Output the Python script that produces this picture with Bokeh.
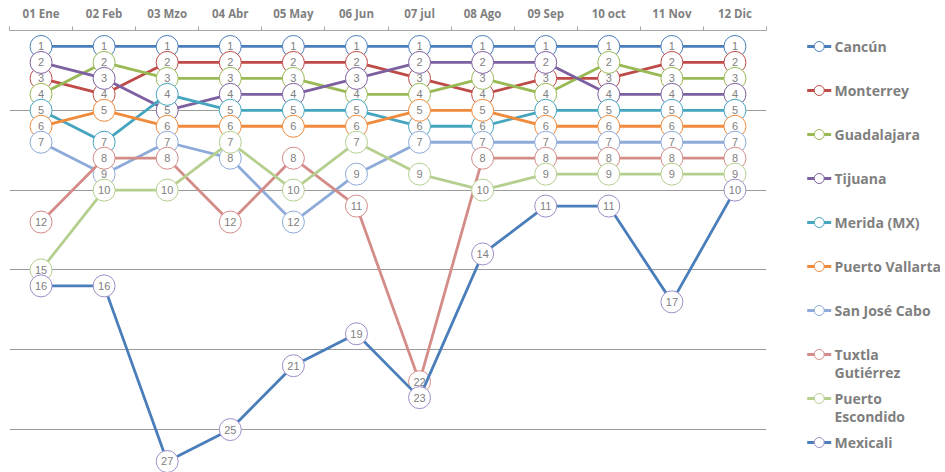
from bokeh.plotting import figure
from bokeh.models import Range1d, FixedTicker
from bokeh.layouts import row
from bokeh.core.properties import value
from bokeh.embed import file_html
from bokeh.resources import INLINE

months = ["01 Ene", "02 Feb", "03 Mzo", "04 Abr", "05 May", "06 Jun",
          "07 jul", "08 Ago", "09 Sep", "10 oct", "11 Nov", "12 Dic"]

names = ["Cancún", "Monterrey", "Guadalajara", "Tijuana", "Merida (MX)",
         "Puerto Vallarta", "San José Cabo", "Tuxtla\nGutiérrez",
         "Puerto\nEscondido", "Mexicali"]

cancun = [1, 1, 1, 1, 1, 1, 1, 1, 1, 1, 1, 1]
monterrey = [3, 4, 2, 2, 2, 2, 3, 4, 3, 3, 2, 2]
guadalajara = [4, 2, 3, 3, 3, 4, 4, 3, 4, 2, 3, 3]
tijuana = [2, 3, 5, 4, 4, 3, 2, 2, 2, 4, 4, 4]
merida = [5, 7, 4, 5, 5, 5, 6, 6, 5, 5, 5, 5]
vallarta = [6, 5, 6, 6, 6, 6, 5, 5, 6, 6, 6, 6]
sanjose = [7, 9, 7, 8, 12, 9, 7, 7, 7, 7, 7, 7]
tuxtla = [12, 8, 8, 12, 8, 11, 22, 8, 8, 8, 8, 8]
escondido = [15, 10, 10, 7, 10, 7, 9, 10, 9, 9, 9, 9]
mexicali = [16, 16, 27, 25, 21, 19, 23, 14, 11, 11, 17, 10]

series = [cancun, monterrey, guadalajara, tijuana, merida,
          vallarta, sanjose, tuxtla, escondido, mexicali]

line_colors = ["#4a7ebb", "#be4b48", "#98b954", "#7d60a0", "#45a5be",
               "#f08a3c", "#8eaad8", "#d48c89", "#b5cf8f", "#4a7ebb"]
marker_colors = ["#4a7ebb", "#be4b48", "#98b954", "#7d60a0", "#45a5be",
                 "#f08a3c", "#8eaad8", "#d48c89", "#b5cf8f", "#9d8ec7"]

x = list(range(len(months)))
grid_ranks = [5, 10, 15, 20, 25]

p = figure(width=790, height=472, output_backend="svg", toolbar_location=None,
           x_range=Range1d(-0.5, 11.5), y_range=Range1d(27.69, 0),
           x_axis_location="above", min_border_left=9, min_border_right=24,
           min_border_top=30, min_border_bottom=0)
p.outline_line_color = None
p.background_fill_color = "white"
p.border_fill_color = "white"

ax = p.xaxis[0]
ax.ticker = FixedTicker(ticks=x, minor_ticks=[i - 0.5 for i in range(13)])
ax.major_label_overrides = {i: m for i, m in enumerate(months)}
ax.major_tick_out = 0
ax.major_tick_in = 0
ax.minor_tick_out = 4
ax.minor_tick_in = 0
ax.minor_tick_line_color = "#a6a6a6"
ax.axis_line_color = "#a6a6a6"
ax.axis_line_width = 1.2
ax.major_label_text_font = "Open Sans"
ax.major_label_text_font_size = "11.5px"
ax.major_label_text_color = "#7f7f7f"
ax.major_label_text_font_style = "bold"
ax.major_label_standoff = 6

p.yaxis.visible = False
p.yaxis.ticker = FixedTicker(ticks=grid_ranks)
p.xgrid.visible = False
p.ygrid.ticker = FixedTicker(ticks=grid_ranks)
p.ygrid.grid_line_color = "#9a9a9a"
p.ygrid.grid_line_width = 1.2

for vals, lc, mc in zip(series, line_colors, marker_colors):
    p.line(x, vals, line_color=lc, line_width=2.8)
    p.scatter(x, vals, size=22, marker="circle", fill_color="white",
              line_color=mc, line_width=1)

for vals in series:
    p.text(x, vals, text=[str(v) for v in vals], text_align="center",
           text_baseline="middle", text_font=value("Liberation Sans"),
           text_font_size="11px", text_color="#808080")

# legend panel (coordinates in page pixels)
lg = figure(width=150, height=472, output_backend="svg", toolbar_location=None,
            x_range=Range1d(790, 940), y_range=Range1d(472, 30),
            x_axis_location=None, y_axis_location=None,
            min_border_left=0, min_border_right=0, min_border_top=30, min_border_bottom=0)
lg.outline_line_color = None
lg.grid.visible = False

for i, (name, lc, mc) in enumerate(zip(names, line_colors, marker_colors)):
    yy = 46 + 44 * i
    lg.line([806.7, 830.7], [yy, yy], line_color=lc, line_width=3)
    lg.scatter([818.7], [yy], size=10, marker="circle", fill_color="white",
               line_color=mc, line_width=1)
    for j, part in enumerate(name.split("\n")):
        lg.text([834], [yy + 18 * j], text=[part], text_align="left",
                text_baseline="middle", text_font=value("Open Sans"),
                text_font_size="14px", text_color="#7f7f7f",
                text_font_style="bold")

layout = row(p, lg)
open("out.html", "w").write(file_html(layout, INLINE))
